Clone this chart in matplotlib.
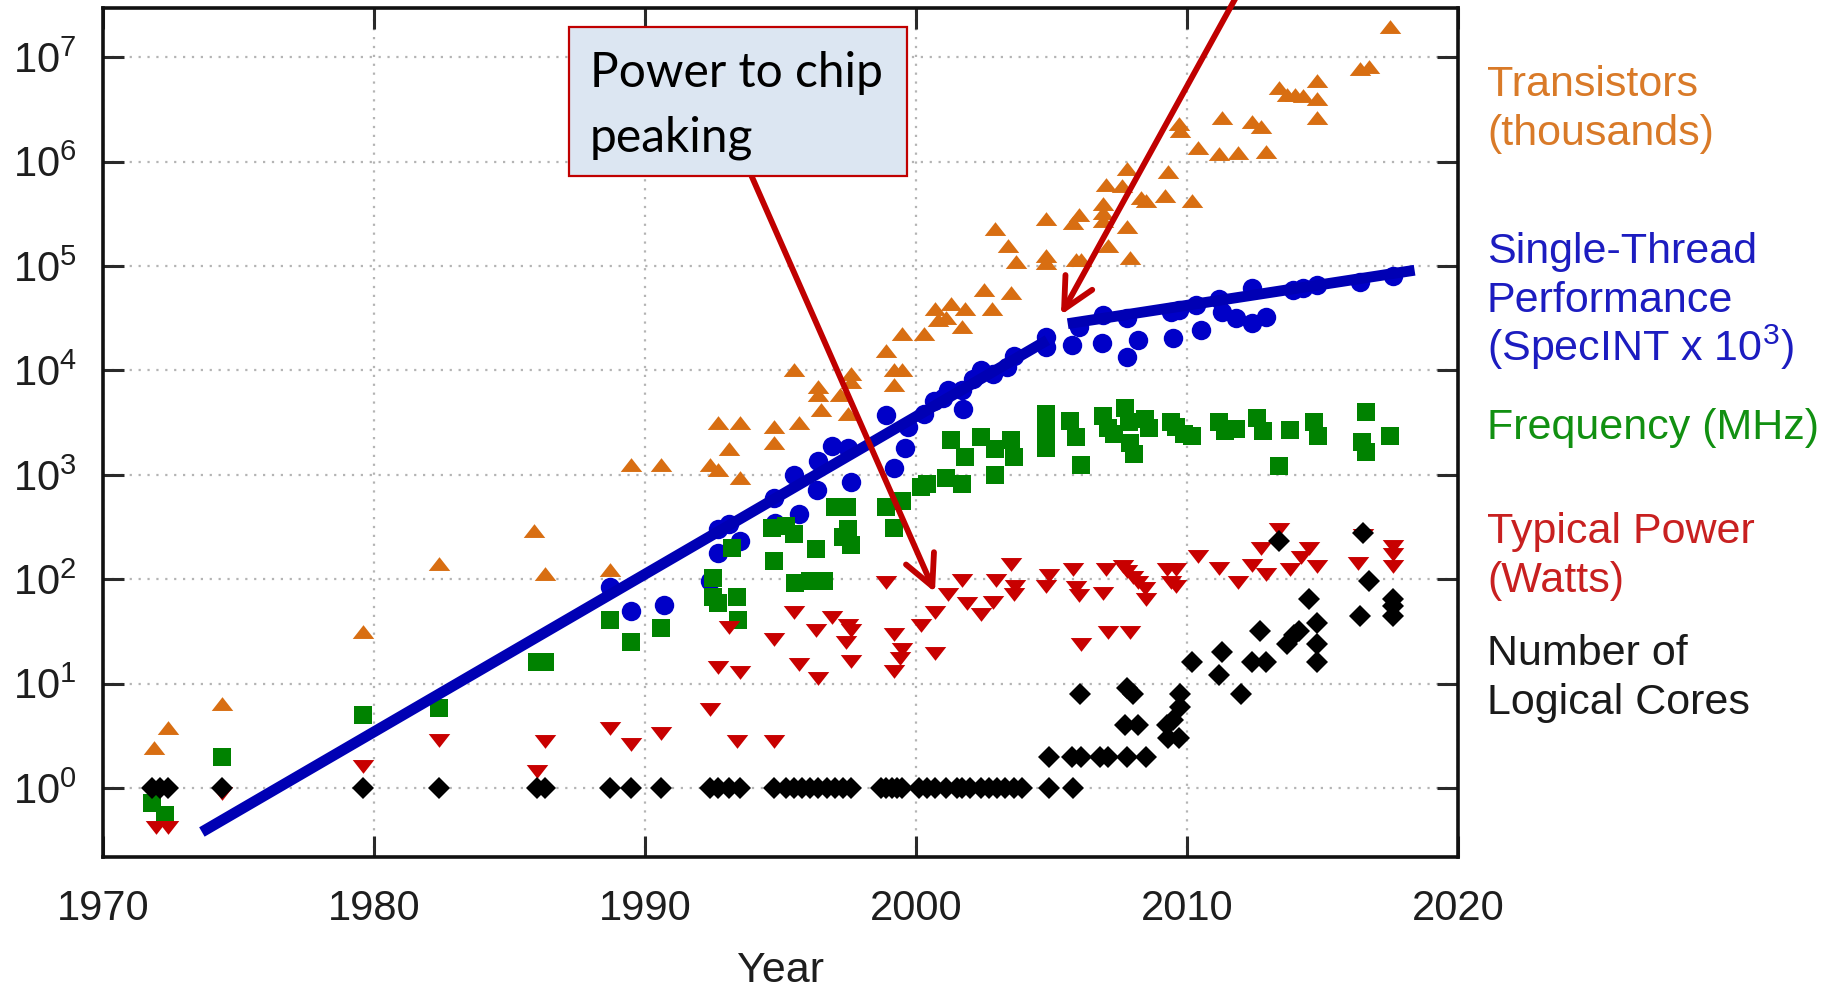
import numpy as np
import matplotlib
matplotlib.use('Agg')
import matplotlib.pyplot as plt
from matplotlib.patches import Rectangle
from matplotlib.ticker import NullLocator

plt.rcParams['font.family'] = ['Liberation Sans', 'DejaVu Sans']
plt.rcParams['mathtext.default'] = 'regular'

# === 1. Data ===
# (year, power of ten on the log axis) -> plotted value is 10 ** exponent
transistors = [
    (1971.9, 0.38), (1972.4, 0.58), (1974.4, 0.81), (1979.6, 1.49), (1982.4, 2.15),
    (1985.9, 2.46), (1986.3, 2.05), (1988.7, 2.09), (1989.5, 3.09), (1990.6, 3.09),
    (1992.4, 3.09), (1992.7, 3.05), (1992.7, 3.50), (1993.1, 3.25), (1993.5, 3.50),
    (1993.5, 2.97), (1994.75, 3.46), (1994.75, 3.30), (1995.5, 4.00), (1995.7, 3.50),
    (1996.4, 3.84), (1996.4, 3.76), (1996.5, 3.62), (1997.2, 3.76), (1997.5, 3.58),
    (1997.6, 3.97), (1997.6, 3.89), (1998.9, 4.19), (1999.2, 4.00), (1999.5, 4.00),
    (1999.2, 3.86), (1999.5, 4.35), (2000.3, 4.35), (2000.7, 4.59), (2000.8, 4.48),
    (2001.1, 4.50), (2001.3, 4.64), (2001.8, 4.59), (2001.7, 4.42), (2002.5, 4.77),
    (2002.8, 4.59), (2003.5, 4.74), (2002.9, 5.35), (2003.4, 5.19), (2003.7, 5.04),
    (2004.8, 5.45), (2004.8, 5.10), (2004.8, 5.03), (2005.8, 5.41), (2006.0, 5.49),
    (2005.9, 5.06), (2006.1, 5.06), (2006.9, 5.59), (2006.9, 5.51), (2006.9, 5.43),
    (2007.0, 5.78), (2007.1, 5.19), (2007.8, 5.93), (2007.6, 5.77), (2007.8, 5.37),
    (2007.9, 5.08), (2008.3, 5.65), (2008.5, 5.62), (2009.2, 5.67), (2009.3, 5.90),
    (2009.7, 6.36), (2009.75, 6.29), (2010.2, 5.62), (2010.4, 6.13), (2011.2, 6.07),
    (2011.3, 6.42), (2011.9, 6.08), (2012.4, 6.38), (2012.75, 6.33), (2012.9, 6.09),
    (2013.4, 6.70), (2013.7, 6.64), (2014.0, 6.64), (2014.3, 6.63), (2014.8, 6.77),
    (2014.8, 6.60), (2014.8, 6.42), (2016.4, 6.89), (2016.7, 6.91), (2017.5, 7.29),
]

single_thread = [
    (1988.7, 1.93), (1989.5, 1.70), (1990.7, 1.75), (1992.4, 1.98), (1992.7, 2.25),
    (1992.7, 2.48), (1993.1, 2.53), (1993.5, 2.37), (1994.75, 2.78), (1994.8, 2.54),
    (1995.5, 3.00), (1995.7, 2.62), (1996.35, 2.85), (1996.4, 3.13), (1996.9, 3.28),
    (1997.5, 3.26), (1997.6, 2.93), (1998.9, 3.57), (1999.2, 3.07), (1999.6, 3.26),
    (1999.7, 3.46), (2000.3, 3.58), (2000.65, 3.71), (2001.0, 3.74), (2001.2, 3.81),
    (2001.7, 3.81), (2001.75, 3.63), (2002.1, 3.92), (2002.4, 4.00), (2002.85, 3.97),
    (2003.35, 4.03), (2003.6, 4.14), (2004.8, 4.32), (2004.8, 4.22), (2005.75, 4.24),
    (2006.0, 4.42), (2006.9, 4.53), (2006.85, 4.26), (2007.8, 4.50), (2007.8, 4.13),
    (2008.2, 4.29), (2009.4, 4.56), (2009.7, 4.58), (2009.5, 4.31), (2010.35, 4.63),
    (2010.5, 4.39), (2011.2, 4.68), (2011.3, 4.56), (2011.8, 4.50), (2012.4, 4.79),
    (2012.4, 4.45), (2012.9, 4.51), (2013.9, 4.77), (2014.3, 4.79), (2014.8, 4.82),
    (2016.4, 4.85), (2017.6, 4.90),
]

frequency = [
    (1971.8, -0.14), (1972.3, -0.26), (1974.4, 0.30), (1979.6, 0.70), (1982.4, 0.77),
    (1986.0, 1.21), (1986.3, 1.21), (1988.7, 1.61), (1989.5, 1.40), (1990.6, 1.53),
    (1992.5, 1.83), (1992.7, 1.77), (1993.4, 1.83), (1993.45, 1.61), (1992.5, 2.01),
    (1993.2, 2.30), (1994.7, 2.49), (1994.75, 2.17), (1995.55, 1.96), (1995.2, 2.51),
    (1995.5, 2.43), (1996.1, 1.98), (1996.6, 1.98), (1996.3, 2.29), (1997.0, 2.69),
    (1997.45, 2.69), (1997.3, 2.40), (1997.5, 2.48), (1997.6, 2.33), (1998.9, 2.69),
    (1999.2, 2.49), (1999.5, 2.75), (2000.2, 2.88), (2000.4, 2.91), (2001.1, 2.97),
    (2001.7, 2.91), (2001.3, 3.33), (2001.8, 3.17), (2002.4, 3.36), (2002.9, 3.25),
    (2002.9, 3.00), (2003.5, 3.33), (2003.6, 3.17), (2004.8, 3.58), (2004.8, 3.42),
    (2004.8, 3.26), (2005.7, 3.52), (2005.9, 3.36), (2006.1, 3.09), (2006.9, 3.56),
    (2007.1, 3.45), (2007.3, 3.39), (2007.7, 3.64), (2007.85, 3.51), (2007.9, 3.30),
    (2008.06, 3.20), (2008.45, 3.53), (2008.6, 3.45), (2009.4, 3.51), (2009.6, 3.46),
    (2009.9, 3.39), (2010.2, 3.37), (2011.2, 3.51), (2011.4, 3.42), (2011.8, 3.44),
    (2012.6, 3.54), (2012.8, 3.42), (2013.4, 3.08), (2013.8, 3.43), (2014.7, 3.51),
    (2014.85, 3.37), (2016.45, 3.31), (2016.6, 3.60), (2016.6, 3.22), (2017.5, 3.37),
]

power = [
    (1971.95, -0.37), (1972.4, -0.37), (1974.4, -0.05), (1979.6, 0.21), (1982.4, 0.46),
    (1986.0, 0.16), (1986.3, 0.45), (1988.7, 0.58), (1989.5, 0.42), (1990.6, 0.53),
    (1992.4, 0.76), (1992.7, 1.16), (1993.1, 1.54), (1993.5, 1.11), (1993.4, 0.45),
    (1994.75, 0.45), (1994.75, 1.43), (1995.5, 1.69), (1995.7, 1.19), (1996.3, 1.51),
    (1996.4, 1.05), (1996.9, 1.64), (1997.4, 1.40), (1997.5, 1.56), (1997.6, 1.51),
    (1997.6, 1.22), (1998.9, 1.97), (1999.2, 1.48), (1999.2, 1.12), (1999.4, 1.25),
    (1999.5, 1.33), (2000.2, 1.56), (2000.7, 1.69), (2000.7, 1.29), (2001.2, 1.86),
    (2001.7, 1.99), (2001.9, 1.77), (2002.4, 1.67), (2002.85, 1.78), (2002.95, 1.99),
    (2003.5, 2.15), (2003.6, 1.86), (2003.65, 1.94), (2004.8, 1.94), (2004.9, 2.04),
    (2005.8, 2.10), (2005.9, 1.93), (2006.0, 1.85), (2006.1, 1.38), (2007.0, 2.10),
    (2006.9, 1.87), (2007.1, 1.49), (2007.65, 2.13), (2007.8, 2.08), (2007.9, 1.49),
    (2008.0, 2.02), (2008.2, 1.97), (2008.45, 1.92), (2008.5, 1.81), (2009.25, 2.10),
    (2009.4, 1.97), (2009.6, 2.10), (2009.6, 1.94), (2010.4, 2.22), (2011.2, 2.11),
    (2011.9, 1.97), (2012.4, 2.14), (2012.75, 2.30), (2012.9, 2.05), (2013.4, 2.48),
    (2013.8, 2.10), (2014.2, 2.21), (2014.5, 2.30), (2014.8, 2.13), (2016.3, 2.16),
    (2016.5, 2.42), (2017.6, 2.32), (2017.6, 2.24), (2017.6, 2.13),
]

# logical cores, read as counts
single_core_years = [
    1971.8, 1972.1, 1972.4, 1974.4, 1979.6, 1982.4, 1986.0, 1986.3, 1988.7, 1989.5,
    1990.6, 1992.4, 1992.7, 1993.1, 1993.5, 1994.75, 1995.2, 1995.5, 1995.8, 1996.1,
    1996.4, 1996.7, 1997.0, 1997.3, 1997.6, 1998.7, 1998.9, 1999.1, 1999.3, 1999.5,
    2000.1, 2000.4, 2000.7, 2001.1, 2001.5, 2001.7, 2002.0, 2002.4, 2002.7, 2003.0,
    2003.3, 2003.6, 2003.9, 2004.9, 2005.8,
]
multi_core = [
    (2004.9, 2), (2005.75, 2), (2006.1, 2), (2006.8, 2), (2007.1, 2), (2007.8, 2),
    (2008.5, 2), (2006.05, 8), (2007.8, 9), (2008.0, 8), (2007.7, 4), (2008.2, 4),
    (2009.25, 4), (2009.5, 4.5), (2009.3, 3), (2009.7, 3), (2009.75, 8), (2009.75, 6),
    (2010.2, 16), (2011.3, 20), (2011.2, 12), (2012.0, 8), (2012.4, 16), (2012.9, 16),
    (2012.7, 32), (2013.4, 230), (2013.7, 24), (2013.95, 29), (2014.15, 32), (2014.5, 64),
    (2014.8, 38), (2014.8, 24), (2014.8, 16), (2016.5, 280), (2016.7, 96), (2016.4, 44),
    (2017.6, 64), (2017.6, 56), (2017.6, 44),
]

# hand-drawn trend lines for single-thread performance (year, value)
trend_early = [(1973.65, 0.38), (2004.85, 1.95e4)]
trend_late = [(2005.6, 2.8e4), (2018.4, 9.1e4)]

# callout arrows: (tail, head) in data units
arrow_power = ((1993.9, 7.6e5), (2000.7, 75))
arrow_perf = ((2012.0, 4.6e7), (2005.35, 3.4e4))

legend_blocks = [
    (['Transistors', '(thousands)'], '#d97a28', 96),
    (['Single-Thread', 'Performance', '(SpecINT x 10$^3$)'], '#1c1cc0', 263),
    (['Frequency (MHz)'], '#119011', 439),
    (['Typical Power', '(Watts)'], '#c82020', 543),
    (['Number of', 'Logical Cores'], '#1a1a1a', 665),
]
callout_lines = ['Power to chip', 'peaking']


def split(pairs):
    xs, es = zip(*pairs)
    return np.array(xs), 10.0 ** np.array(es)


# === 2. Figure ===
W, H = 1839, 991
fig = plt.figure(figsize=(W / 100, H / 100), dpi=100)
ax = fig.add_axes([0.056, 0.1352, 0.7368, 0.8567])

tri_up = [(-1, -0.6), (1, -0.6), (0, 0.68)]
tri_dn = [(-1, 0.6), (1, 0.6), (0, -0.68)]

x, y = split(transistors)
ax.plot(x, y, ls='none', marker=tri_up, ms=15.5, mew=0, color='#d86e12', zorder=3)
x, y = split(single_thread)
ax.plot(x, y, ls='none', marker='o', ms=14, mew=0, color='#0000c8', zorder=3)
x, y = split(frequency)
ax.plot(x, y, ls='none', marker='s', ms=13.5, mew=0, color='#008200', zorder=3)
x, y = split(power)
ax.plot(x, y, ls='none', marker=tri_dn, ms=15.5, mew=0, color='#c80000', zorder=3)
ax.plot(single_core_years, np.ones(len(single_core_years)), ls='none', marker='D',
        ms=11, mew=0, color='black', zorder=3)
cx, cy = zip(*multi_core)
ax.plot(cx, cy, ls='none', marker='D', ms=11, mew=0, color='black', zorder=3)

for seg in (trend_early, trend_late):
    sx, sy = zip(*seg)
    ax.plot(sx, sy, color='#0000b4', lw=7.8, solid_capstyle='butt', zorder=4)

for tail, head in (arrow_power, arrow_perf):
    ax.annotate('', xy=head, xytext=tail, annotation_clip=False,
                arrowprops=dict(arrowstyle='->,head_length=1.1,head_width=0.55',
                                mutation_scale=20, lw=4.2, color='#c00000',
                                shrinkA=0, shrinkB=0), zorder=6)

# === 3. Axes styling ===
ax.set_yscale('log')
ax.set_xlim(1970, 2020)
ax.set_ylim(10 ** -0.66, 10 ** 7.47)
ax.set_xticks([1970, 1980, 1990, 2000, 2010, 2020])
ax.set_yticks([10.0 ** k for k in range(8)])
ax.yaxis.set_minor_locator(NullLocator())
ax.xaxis.set_minor_locator(NullLocator())
ax.tick_params(axis='both', which='major', direction='in', length=15, width=2.2,
               top=True, right=True, labelsize=30, color='#2a2a2a', labelcolor='#1e1e1e')
ax.tick_params(axis='x', pad=23)
ax.tick_params(axis='y', pad=19)
ax.grid(True, which='major', color='#b4b4b4', linestyle=(0, (1, 3)), linewidth=1.6)
ax.set_axisbelow(True)
for sp in ax.spines.values():
    sp.set_linewidth(2.6)
    sp.set_color('#111111')

ax.set_xlabel('Year', fontsize=31, color='#1e1e1e')
ax.xaxis.set_label_coords(0.5, -0.134)
ax.xaxis.label.set_va('center')

# === 4. Legend text at right ===
for lines, col, base in legend_blocks:
    for i, line in enumerate(lines):
        fig.text(1487 / W, 1 - (base + 49 * i) / H, line, fontsize=31, color=col,
                 ha='left', va='baseline')

# === 5. Callout box ===
fig.add_artist(Rectangle((569 / W, 1 - 176 / H), 338 / W, 149 / H, transform=fig.transFigure,
                         facecolor='#dce6f2', edgecolor='#c00000', lw=1.6, zorder=5))
for i, line in enumerate(callout_lines):
    fig.text(590 / W, 1 - (87 + 65 * i) / H, line, fontsize=34.5, family=['Lato', 'DejaVu Sans'],
             color='black', ha='left', va='baseline', zorder=6)

fig.savefig('out.png', dpi=100)
